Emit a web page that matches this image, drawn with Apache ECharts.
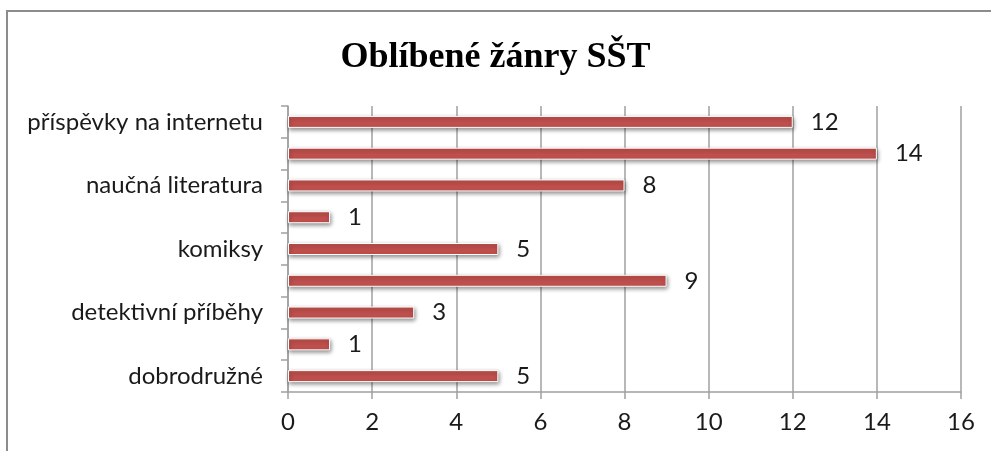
<!DOCTYPE html>
<html>
<head>
<meta charset="utf-8">
<script src="https://cdn.jsdelivr.net/npm/echarts@6/dist/echarts.min.js"></script>
<style>
  html, body { margin: 0; padding: 0; background: #fff; }
  #main { width: 991px; height: 451px; }
</style>
</head>
<body>
<div id="main"></div>
<script>
// kategorie odspodu nahoru (liché popisky nejsou v grafu vidět)
var categories = ['dobrodružné', 'fantasy', 'detektivní příběhy', 'romantické', 'komiksy',
  'poezie', 'naučná literatura', 'sci-fi', 'příspěvky na internetu'];
var values = [5, 1, 3, 9, 5, 1, 8, 14, 12];
var xTicks = [0, 2, 4, 6, 8, 10, 12, 14, 16];

var chart = echarts.init(document.getElementById('main'));

var option = {
  animation: false,
  title: {
    text: 'Oblíbené žánry SŠT',
    left: 'center',
    top: 35,
    textStyle: {
      fontFamily: 'Liberation Serif',
      fontWeight: 'bold',
      fontSize: 36,
      color: '#000'
    }
  },
  graphic: [{
    type: 'rect',
    shape: { x: 7, y: 11, width: 1100, height: 600 },
    style: { fill: 'none', stroke: '#8c8c8c', lineWidth: 2 },
    silent: true
  }],
  grid: { left: 288, right: 30, top: 106, bottom: 59 },
  xAxis: {
    type: 'value',
    min: xTicks[0],
    max: xTicks[xTicks.length - 1],
    interval: 2,
    axisLine: { show: true, lineStyle: { color: '#a0a0a0', width: 1.5 } },
    axisTick: { show: true, length: 7, lineStyle: { color: '#a0a0a0', width: 1.5 } },
    axisLabel: { fontFamily: 'Lato', fontSize: 24, color: '#1a1a1a', margin: 18 },
    splitLine: { show: true, lineStyle: { color: '#a0a0a0', width: 1.5 } }
  },
  yAxis: {
    type: 'category',
    data: categories,
    axisLine: { show: true, lineStyle: { color: '#a0a0a0', width: 1.5 } },
    axisTick: { show: true, length: 7, interval: 0, lineStyle: { color: '#a0a0a0', width: 1.5 } },
    axisLabel: { interval: 1, fontFamily: 'Lato', fontSize: 24, color: '#1a1a1a', margin: 25 }
  },
  series: [{
    type: 'bar',
    data: values,
    barWidth: 12,
    itemStyle: {
      color: '#c0504d',
      borderColor: '#fff',
      borderWidth: 1,
      shadowBlur: 4,
      shadowColor: 'rgba(0,0,0,0.45)',
      shadowOffsetX: 1,
      shadowOffsetY: 2
    },
    label: {
      show: true,
      position: 'right',
      distance: 18,
      fontFamily: 'Lato',
      fontSize: 24,
      color: '#1a1a1a'
    }
  }]
};

chart.setOption(option);
</script>
</body>
</html>
